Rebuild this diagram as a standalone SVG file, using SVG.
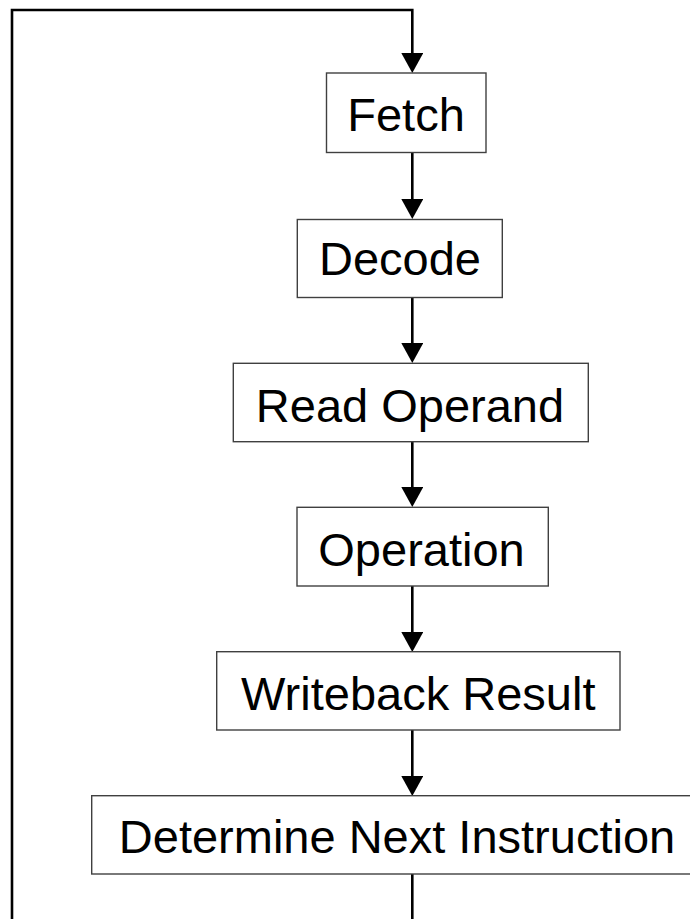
<svg xmlns="http://www.w3.org/2000/svg" width="690" height="919" viewBox="0 0 690 919">
  <style>
    .box rect { fill: #ffffff; stroke: #404040; stroke-width: 1.4; }
    .box text { font-family: "Liberation Sans", Arial, Helvetica, sans-serif; font-size: 47px; fill: #000000; text-anchor: middle; }
    .wire { fill: none; stroke: #000000; stroke-width: 2.6; }
  </style>
  <defs>
    <!-- filled arrowhead; tip lands 8px beyond the line end -->
    <marker id="arrow" markerUnits="userSpaceOnUse" markerWidth="20" markerHeight="22" refX="12" refY="11" orient="auto">
      <path d="M0,0 L20,11 L0,22 Z" fill="#000000"/>
    </marker>
  </defs>

  <rect width="690" height="919" fill="#ffffff"/>

  <!-- connectors -->
  <g id="connectors">
    <!-- loop back from the bottom into Fetch -->
    <path class="wire" d="M12,919 L12,10 L412.3,10 L412.3,65" marker-end="url(#arrow)"/>
    <path class="wire" d="M412.3,153 L412.3,211" marker-end="url(#arrow)"/>
    <path class="wire" d="M412.3,298 L412.3,355" marker-end="url(#arrow)"/>
    <path class="wire" d="M412.3,442 L412.3,499" marker-end="url(#arrow)"/>
    <path class="wire" d="M412.3,586 L412.3,644" marker-end="url(#arrow)"/>
    <path class="wire" d="M412.3,730 L412.3,788" marker-end="url(#arrow)"/>
    <path class="wire" d="M412.3,874 L412.3,919"/>
  </g>

  <!-- pipeline stages -->
  <g id="fetch" class="box">
    <rect x="326.5" y="73" width="159.5" height="79.5"/>
    <text x="406" y="131">Fetch</text>
  </g>
  <g id="decode" class="box">
    <rect x="297.3" y="219.5" width="205" height="78"/>
    <text x="400" y="275">Decode</text>
  </g>
  <g id="read-operand" class="box">
    <rect x="233.3" y="363.3" width="355" height="78.4"/>
    <text x="410" y="421.7">Read Operand</text>
  </g>
  <g id="operation" class="box">
    <rect x="297" y="507.3" width="251.3" height="78.7"/>
    <text x="421.5" y="565.5">Operation</text>
  </g>
  <g id="writeback-result" class="box">
    <rect x="216.7" y="651.7" width="403.3" height="78.3"/>
    <text x="418.3" y="709.5">Writeback Result</text>
  </g>
  <g id="determine-next-instruction" class="box">
    <rect x="91.7" y="795.7" width="610" height="78.3"/>
    <text x="397" y="853">Determine Next Instruction</text>
  </g>
</svg>
